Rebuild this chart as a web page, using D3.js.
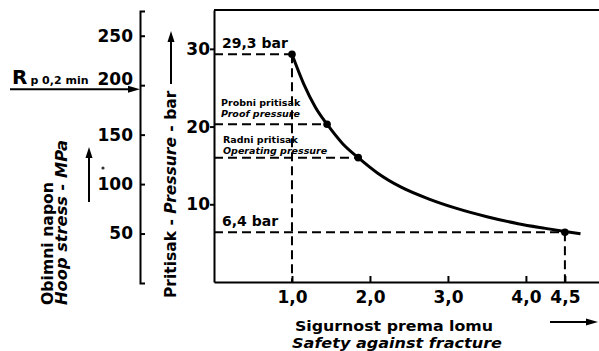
<!DOCTYPE html>
<html>
<head>
<meta charset="utf-8">
<script src="https://cdn.jsdelivr.net/npm/d3@7"></script>
<style>
  body { margin: 0; background: #fff; }
  svg { display: block; font-family: "DejaVu Sans", sans-serif; font-weight: bold; }
</style>
</head>
<body>
<div id="chart"></div>
<script>
// values
const stressTicks = [50, 100, 150, 200, 250];
const pressureTicks = [10, 20, 30];
const safetyTicks = [1.0, 2.0, 3.0, 4.0, 4.5];
const rpMin = 196;

// pressure vs safety curve
const curveSafety = [1.0, 1.15, 1.3, 1.45, 1.65, 1.85, 2.1, 2.4, 2.75, 3.1, 3.5, 3.9, 4.25, 4.5, 4.7];
const curvePressure = [29.3, 25.5, 22.5, 20.3, 17.8, 16.0, 14.0, 12.2, 10.7, 9.5, 8.4, 7.5, 6.9, 6.5, 6.2];

// marked points
const markSafety = [1.0, 1.45, 1.85, 4.5];
const markPressure = [29.3, 20.3, 16.0, 6.4];

const W = 599, H = 351;
const svg = d3.select("#chart").append("svg").attr("width", W).attr("height", H);

// scales
const x = d3.scaleLinear().domain([0, 4.95]).range([214, 600]);
const y = d3.scaleLinear().domain([0, 35]).range([282, 10]);
const yS = d3.scaleLinear().domain([0, 275]).range([283, 11]);

const fmt = d => d3.format(".1f")(d).replace(".", ",");

// arrow head helper
function arrowHead(g, tx, ty, dir) {
  // dir: "up" or "right"
  const p = dir === "up"
    ? [[tx, ty], [tx - 3.5, ty + 11], [tx + 3.5, ty + 11]]
    : [[tx, ty], [tx - 12, ty - 3.5], [tx - 12, ty + 3.5]];
  g.append("path").attr("d", "M" + p.join("L") + "Z").attr("fill", "#000");
}

// ---------- stress axis (left) ----------
const sAxis = svg.append("g").attr("transform", "translate(140,0)")
  .call(d3.axisLeft(yS).tickValues(stressTicks).tickSizeInner(-5).tickSizeOuter(-5).tickPadding(7));
sAxis.selectAll("path, line").attr("stroke", "#000").attr("stroke-width", 2);
sAxis.selectAll("text").attr("font-size", 17).attr("font-family", "DejaVu Sans").attr("font-weight", "bold").attr("fill", "#000");
sAxis.selectAll(".tick").filter(d => d === 200).select("text").attr("dy", "-0.05em");

// Rp arrow
svg.append("line").attr("x1", 10).attr("x2", 128).attr("y1", yS(rpMin)).attr("y2", yS(rpMin))
  .attr("stroke", "#000").attr("stroke-width", 2);
arrowHead(svg, 140, yS(rpMin), "right");
const rp = svg.append("text").attr("x", 12).attr("y", 84).attr("fill", "#000");
rp.append("tspan").attr("font-size", 20).text("R");
rp.append("tspan").attr("font-size", 11).attr("dx", 3).text("p 0,2 min");

// stress labels
svg.append("text").attr("transform", "translate(53,305) rotate(-90)")
  .attr("font-size", 15).attr("textLength", 123).attr("lengthAdjust", "spacingAndGlyphs").text("Obimni napon");
svg.append("text").attr("transform", "translate(67,305) rotate(-90)")
  .attr("font-size", 15).attr("font-style", "italic").attr("textLength", 165).attr("lengthAdjust", "spacingAndGlyphs")
  .text("Hoop stress - MPa");
svg.append("line").attr("x1", 89).attr("x2", 89).attr("y1", 202).attr("y2", 156)
  .attr("stroke", "#000").attr("stroke-width", 2);
arrowHead(svg, 89, 147, "up");
svg.append("circle").attr("cx", 103).attr("cy", 168).attr("r", 1.6).attr("fill", "#333");

// pressure label
const pl = svg.append("text").attr("transform", "translate(176,298) rotate(-90)").attr("font-size", 15.5);
pl.append("tspan").text("Pritisak - ");
pl.append("tspan").attr("font-style", "italic").text("Pressure");
pl.append("tspan").text(" - bar");
svg.append("line").attr("x1", 171).attr("x2", 171).attr("y1", 84).attr("y2", 40)
  .attr("stroke", "#000").attr("stroke-width", 2);
arrowHead(svg, 171, 31, "up");

// ---------- main plot ----------
// top border
svg.append("line").attr("x1", x(0)).attr("x2", W).attr("y1", y(35)).attr("y2", y(35))
  .attr("stroke", "#000").attr("stroke-width", 2);

const yAxis = svg.append("g").attr("transform", `translate(${x(0)},0)`)
  .call(d3.axisLeft(y).tickValues(pressureTicks).tickSizeInner(4).tickSizeOuter(0).tickPadding(0));
const xAxis = svg.append("g").attr("transform", `translate(0,${y(0)})`)
  .call(d3.axisBottom(x).tickValues(safetyTicks).tickFormat(fmt).tickSizeInner(-6).tickSizeOuter(0).tickPadding(9));
[yAxis, xAxis].forEach(a => {
  a.selectAll("path, line").attr("stroke", "#000").attr("stroke-width", 2);
  a.selectAll("text").attr("font-size", 17).attr("font-family", "DejaVu Sans").attr("font-weight", "bold").attr("fill", "#000");
});

// dashed guide lines
const dash = svg.append("g").attr("stroke", "#000").attr("stroke-width", 2).attr("stroke-dasharray", "9,5").attr("fill", "none");
markSafety.forEach((s, i) => {
  dash.append("line").attr("x1", x(0)).attr("x2", x(s)).attr("y1", y(markPressure[i])).attr("y2", y(markPressure[i]));
});
[0, 3].forEach(i => {
  dash.append("line").attr("x1", x(markSafety[i])).attr("x2", x(markSafety[i]))
    .attr("y1", y(markPressure[i])).attr("y2", y(0));
});

// curve
const curve = d3.zip(curveSafety, curvePressure);
svg.append("path").datum(curve)
  .attr("d", d3.line().x(d => x(d[0])).y(d => y(d[1])).curve(d3.curveMonotoneX))
  .attr("fill", "none").attr("stroke", "#000").attr("stroke-width", 3);

svg.selectAll("circle.mark").data(d3.zip(markSafety, markPressure)).join("circle")
  .attr("class", "mark").attr("cx", d => x(d[0])).attr("cy", d => y(d[1])).attr("r", 3.8).attr("fill", "#000");

// annotations
svg.append("text").attr("x", x(0) + 8).attr("y", y(markPressure[0]) - 6).attr("font-size", 14).text("29,3 bar");
svg.append("text").attr("x", x(0) + 8).attr("y", y(markPressure[3]) - 6).attr("font-size", 14).text("6,4 bar");
svg.append("text").attr("x", x(0) + 7).attr("y", y(markPressure[1]) - 18).attr("font-size", 9.5).text("Probni pritisak");
svg.append("text").attr("x", x(0) + 7).attr("y", y(markPressure[1]) - 7).attr("font-size", 9.5).attr("font-style", "italic").text("Proof pressure");
svg.append("text").attr("x", x(0) + 9).attr("y", y(markPressure[2]) - 15).attr("font-size", 9.5).text("Radni pritisak");
svg.append("text").attr("x", x(0) + 9).attr("y", y(markPressure[2]) - 4).attr("font-size", 9.5).attr("font-style", "italic").text("Operating pressure");

// x title
svg.append("text").attr("x", 295).attr("y", 331).attr("font-size", 13.5)
  .attr("textLength", 198).attr("lengthAdjust", "spacingAndGlyphs").text("Sigurnost prema lomu");
svg.append("text").attr("x", 292).attr("y", 348).attr("font-size", 13.5).attr("font-style", "italic")
  .attr("textLength", 210).attr("lengthAdjust", "spacingAndGlyphs").text("Safety against fracture");
svg.append("line").attr("x1", 550).attr("x2", 586).attr("y1", 322).attr("y2", 322).attr("stroke", "#000").attr("stroke-width", 2);
arrowHead(svg, 598, 322, "right");
</script>
</body>
</html>
